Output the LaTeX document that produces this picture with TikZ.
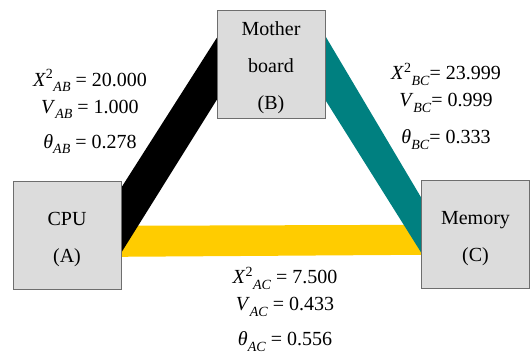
\documentclass[tikz,border=0pt]{standalone}
\usepackage{fontspec}
\setmainfont{Liberation Serif}
\usepackage{xcolor}
\usepackage{tikz}
\usetikzlibrary{calc,backgrounds}
\definecolor{boxc}{RGB}{220,220,220}
\definecolor{edgec}{RGB}{110,110,110}
\definecolor{gold}{RGB}{255,204,0}
\definecolor{tealc}{RGB}{0,128,128}
\newcommand{\lowsub}[1]{\raisebox{-0.28em}{\fontsize{14}{14}\selectfont\textit{#1}}}
\newcommand{\chisq}[1]{\textit{X}\textsuperscript{2}\lowsub{#1}}
\newcommand{\topgap}{\rule{0pt}{22pt}}

\begin{document}
\begin{tikzpicture}[
  x=1pt,y=1pt,
  unit/.style={draw=edgec,fill=boxc,minimum width=108pt,minimum height=108pt,inner sep=0pt,align=center,
    font=\fontsize{20}{37}\selectfont},
  lab/.style={align=center,inner sep=0pt,font=\fontsize{20}{27}\selectfont}
]
\useasboundingbox (0,0) rectangle (531,353);
\node[unit] (A) at (67,118) {\topgap CPU\\(A)};
\node[unit] (B) at (271,289) {\topgap Mother\\board\\(B)};
\node[unit] (C) at (475.5,119) {\topgap Memory\\(C)};
\begin{scope}[on background layer]
\fill[gold] ($(A.north east)+(0,-45)$) -- ($(C.north west)+(0,-45)$) -- ($(C.north west)+(0,-75)$) -- ($(A.north east)+(0,-76)$) -- cycle;
\fill[black] ($(A.north east)+(0,-7)$) -- ($(B.north west)+(0,-28)$) -- ($(B.north west)+(0,-90)$) -- ($(A.north east)+(0,-72)$) -- cycle;
\fill[tealc] ($(B.north east)+(0,-26)$) -- ($(C.north west)+(0,-18)$) -- ($(C.north west)+(0,-73)$) -- ($(B.north east)+(0,-90)$) -- cycle;
\end{scope}
\node[lab] (labAB) at (90,241.5) {\chisq{AB} = 20.000\\ \textit{V}\lowsub{AB} = 1.000\\[8pt] \textit{θ}\lowsub{AB} = 0.278};
\node[lab] (labBC) at (446,247) {\chisq{BC}= 23.999\\ \textit{V}\lowsub{BC}= 0.999\\[10pt] \textit{θ}\lowsub{BC}= 0.333};
\node[lab] (labAC) at (285,44) {\chisq{AC} = 7.500\\ \textit{V}\lowsub{AC} = 0.433\\[8pt] \textit{θ}\lowsub{AC} = 0.556};
\end{tikzpicture}
\end{document}
